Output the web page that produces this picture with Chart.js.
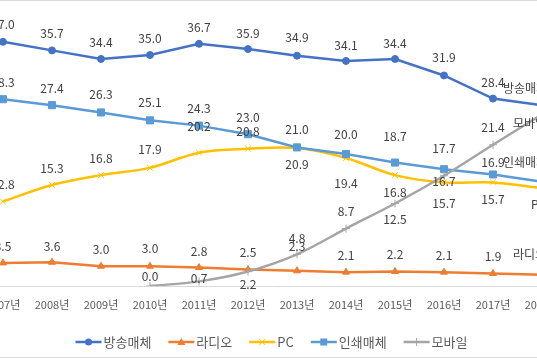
<!DOCTYPE html>
<html>
<head>
<meta charset="utf-8">
<script src="https://cdn.jsdelivr.net/npm/chart.js@4"></script>
<style>
  html, body { margin: 0; padding: 0; background: #fff; }
  #view { position: relative; width: 537px; height: 360px; overflow: hidden; }
  #frame { position: absolute; left: -100px; top: 0; width: 735px; height: 356px; border: 1px solid #d9d9d9; }
  #wrap { position: absolute; left: -100px; top: 0; width: 737px; height: 360px; }
</style>
</head>
<body>
<div id="view">
  <div id="frame"></div>
  <div id="wrap"><canvas id="myChart" width="737" height="360"></canvas></div>
</div>
<script>
// values (2018 values are estimated, the chart is cut there)
const years = ['2007년', '2008년', '2009년', '2010년', '2011년', '2012년', '2013년', '2014년', '2015년', '2016년', '2017년', '2018년'];
const broadcastVals = [37.0, 35.7, 34.4, 35.0, 36.7, 35.9, 34.9, 34.1, 34.4, 31.9, 28.4, 27.4];
const radioVals = [3.5, 3.6, 3.0, 3.0, 2.8, 2.5, 2.3, 2.1, 2.2, 2.1, 1.9, 1.7];
const pcVals = [12.8, 15.3, 16.8, 17.9, 20.2, 20.8, 20.9, 19.4, 16.8, 15.7, 15.7, 14.8];
const printVals = [28.3, 27.4, 26.3, 25.1, 24.3, 23.0, 21.0, 20.0, 18.7, 17.7, 16.9, 15.8];
const mobileVals = [null, null, null, 0.0, 0.7, 2.2, 4.8, 8.7, 12.5, 16.7, 21.4, 26.0];
const seriesNames = ['방송매체', '라디오', 'PC', '인쇄매체', '모바일'];

const FONT = "'Noto Sans CJK KR', 'Malgun Gothic', sans-serif";
Chart.defaults.font.family = FONT;

// label placement (vertical offset from point), per series
const labelDy = [
  [-17, -17, -17, -17, -16, -16, -18, -16, -16, -18, -16],
  [-16, -16, -17, -18, -16, -17, -24, -17, -17, -17, -17],
  [-17, -17, -17, -18, -26, -17, 16, 25, 17, 21, 17],
  [-17, -17, -18, -18, -17, -17, -18, -20, -26, -21, -12],
  [0, 0, 0, -10, -3, 13, -16, -17, 16, 6, -17]
];
// series name labels at the last point: [dx, dy]
const nameOffsets = [[-39, -17], [-29, -20], [-11, 16], [-39, -19], [-29, 9]];

function drawMarker(ctx, style, x, y, color) {
  ctx.save();
  ctx.fillStyle = color;
  ctx.strokeStyle = color;
  ctx.lineWidth = 1;
  ctx.beginPath();
  if (style === 'circle') {
    ctx.arc(x, y, 3.5, 0, Math.PI * 2);
    ctx.fill();
  } else if (style === 'triangle') {
    ctx.moveTo(x, y - 4); ctx.lineTo(x + 4, y + 3); ctx.lineTo(x - 4, y + 3); ctx.closePath();
    ctx.fill();
  } else if (style === 'rect') {
    ctx.rect(x - 3.5, y - 3.5, 7, 7);
    ctx.fill();
  } else if (style === 'crossRot') {
    ctx.moveTo(x - 3, y - 3); ctx.lineTo(x + 3, y + 3);
    ctx.moveTo(x + 3, y - 3); ctx.lineTo(x - 3, y + 3);
    ctx.stroke();
  } else {
    ctx.moveTo(x, y - 4); ctx.lineTo(x, y + 4);
    ctx.stroke();
  }
  ctx.restore();
}

const valueLabels = {
  id: 'valueLabels',
  afterDatasetsDraw(chart) {
    const ctx = chart.ctx;
    ctx.save();
    ctx.font = '12px ' + FONT;
    ctx.fillStyle = '#404040';
    ctx.textBaseline = 'middle';
    chart.data.datasets.forEach((ds, i) => {
      const meta = chart.getDatasetMeta(i);
      ds.data.forEach((v, j) => {
        if (v === null) return;
        const pt = meta.data[j];
        if (j === ds.data.length - 1) {
          ctx.textAlign = 'left';
          ctx.fillText(seriesNames[i], pt.x + nameOffsets[i][0], pt.y + nameOffsets[i][1]);
        } else {
          ctx.textAlign = 'center';
          ctx.fillText(v.toFixed(1), pt.x, pt.y + labelDy[i][j]);
        }
      });
    });
    ctx.restore();
  }
};

const bottomLegend = {
  id: 'bottomLegend',
  afterDraw(chart) {
    const ctx = chart.ctx;
    ctx.save();
    ctx.font = '13px ' + FONT;
    const sample = 26, gap = 2, itemGap = 17;
    const ds = chart.data.datasets;
    let total = 0;
    ds.forEach((d, i) => {
      total += sample + gap + ctx.measureText(d.label).width + (i < ds.length - 1 ? itemGap : 0);
    });
    let x = (chart.width - total) / 2 + 3;
    const y = 342;
    ds.forEach(d => {
      ctx.strokeStyle = d.borderColor;
      ctx.lineWidth = 2.5;
      ctx.beginPath();
      ctx.moveTo(x, y); ctx.lineTo(x + sample, y);
      ctx.stroke();
      drawMarker(ctx, d.pointStyle, x + sample / 2, y, d.borderColor);
      x += sample + gap;
      ctx.fillStyle = '#595959';
      ctx.textAlign = 'left';
      ctx.textBaseline = 'middle';
      ctx.fillText(d.label, x, y);
      x += ctx.measureText(d.label).width + itemGap;
    });
    ctx.restore();
  }
};

function makeSet(label, data, color, style, radius, tension, order) {
  return {
    label: label,
    data: data,
    borderColor: color,
    backgroundColor: color,
    pointBackgroundColor: color,
    pointBorderColor: color,
    pointStyle: style,
    pointRadius: radius,
    pointBorderWidth: 1,
    borderWidth: 2.5,
    tension: tension,
    order: order,
    spanGaps: false
  };
}

new Chart(document.getElementById('myChart'), {
  type: 'line',
  data: {
    labels: years,
    datasets: [
      makeSet(seriesNames[0], broadcastVals, '#4472C4', 'circle', 3.5, 0, 5),
      makeSet(seriesNames[1], radioVals, '#ED7D31', 'triangle', 4, 0, 4),
      makeSet(seriesNames[2], pcVals, '#FFC000', 'crossRot', 4, 0.35, 3),
      makeSet(seriesNames[3], printVals, '#5B9BD5', 'rect', 5, 0, 2),
      makeSet(seriesNames[4], mobileVals, '#A5A5A5', 'cross', 4, 0.35, 1)
    ]
  },
  options: {
    responsive: false,
    animation: false,
    devicePixelRatio: 1,
    layout: { padding: { left: 78.5, right: 70.5, top: 22, bottom: 0 } },
    plugins: {
      legend: { display: false },
      tooltip: { enabled: false }
    },
    scales: {
      x: {
        offset: true,
        grid: { display: false, drawTicks: false },
        border: { display: true, color: '#d9d9d9', width: 1 },
        ticks: { color: '#595959', font: { size: 11 }, padding: 12, maxRotation: 0, autoSkip: false },
        afterFit(scale) { scale.height = 74; }
      },
      y: { display: false, min: 0, max: 40 }
    }
  },
  plugins: [valueLabels, bottomLegend]
});
</script>
</body>
</html>
